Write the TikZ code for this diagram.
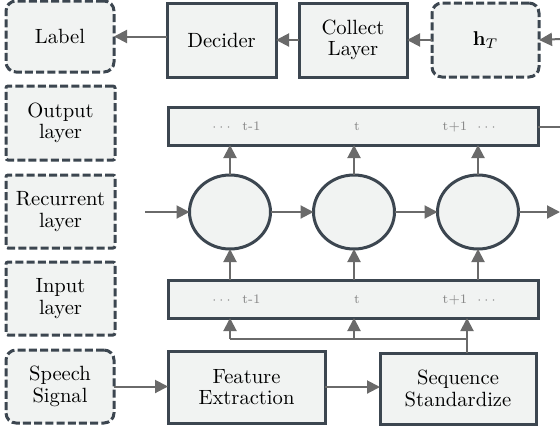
\documentclass[tikz,border=0pt]{standalone}
\usetikzlibrary{arrows.meta,shapes.geometric}
\definecolor{boxfill}{HTML}{F1F3F2}
\definecolor{boxline}{HTML}{3C4650}
\definecolor{arrowc}{HTML}{6A6A6A}
\definecolor{smalltxt}{HTML}{858585}
\newcommand{\mydots}{$\cdots$}
\begin{document}
\begin{tikzpicture}[x=0.5pt,y=-0.5pt,
  every node/.style={font=\fontsize{10.3}{10.8}\selectfont, align=center, inner sep=0pt, outer sep=0pt},
  solidbox/.style={draw=boxline, fill=boxfill, line width=1.5pt},
  dashbox/.style={draw=boxline, fill=boxfill, line width=1.5pt, dash pattern=on 4pt off 1.6pt, rounded corners=1pt},
  rdashbox/.style={dashbox, rounded corners=5pt},
  cellnode/.style={draw=boxline, fill=boxfill, line width=1.5pt, shape=ellipse, minimum width=40.5pt, minimum height=37pt},
  barbox/.style={solidbox, minimum width=185pt, minimum height=19pt},
  smallt/.style={font=\fontsize{6.5}{7}\selectfont, text=smalltxt, anchor=base},
  arr/.style={draw=arrowc, line width=1pt, -{Triangle[length=6.5pt,width=6.5pt]}},
  plainline/.style={draw=arrowc, line width=1pt}]
\useasboundingbox (0,0) rectangle (560,428);
% top row
\node[rdashbox, minimum width=54pt, minimum height=35.5pt] (label) at (60,36.5) {Label};
\node[solidbox, minimum width=54.5pt, minimum height=37pt] (decider) at (221.5,40) {Decider};
\node[solidbox, minimum width=54pt, minimum height=37pt] (collect) at (353,40) {Collect\\Layer};
\node[rdashbox, minimum width=53.5pt, minimum height=37pt] (hT) at (485.5,40) {$\mathbf{h}_T$};
% left labels
\node[dashbox, minimum width=54.5pt, minimum height=37pt] (outlbl) at (60.5,123) {Output\\layer};
\node[dashbox, minimum width=54.5pt, minimum height=36.5pt] (reclbl) at (60.5,211.5) {Recurrent\\layer};
\node[dashbox, minimum width=54.5pt, minimum height=36.5pt] (inlbl) at (60.5,298.5) {Input\\layer};
\node[rdashbox, minimum width=54pt, minimum height=36.5pt] (speech) at (60,386.5) {Speech\\Signal};
% bars
\node[barbox] (outbar) at (353,126) {};
\node[barbox] (inbar) at (353,299) {};
\node[smallt] (o1d) at (221.5,130) {\mydots};
\node[smallt] (o1) at (251.5,130) {t-1};
\node[smallt] (o2) at (357,130) {t};
\node[smallt] (o3) at (455,130) {t+1};
\node[smallt] (o3d) at (486.5,130) {\mydots};
\node[smallt] (i1d) at (221.5,303) {\mydots};
\node[smallt] (i1) at (251.5,303) {t-1};
\node[smallt] (i2) at (357,303) {t};
\node[smallt] (i3) at (455,303) {t+1};
\node[smallt] (i3d) at (486.5,303) {\mydots};
% cells
\node[cellnode] (c1) at (230,212) {};
\node[cellnode] (c2) at (354,212) {};
\node[cellnode] (c3) at (478,212) {};
% bottom boxes
\node[solidbox, minimum width=78.5pt, minimum height=36pt] (feat) at (246.5,387) {Feature\\Extraction};
\node[solidbox, minimum width=78pt, minimum height=35.5pt] (seq) at (458,388.5) {Sequence\\Standardize};
% free ends
\coordinate (inL) at (145,212);
\coordinate (outR) at (560,212);
\coordinate (hTin) at (560,39);
\coordinate (outbarR) at (560,127);
\coordinate (j) at (467,339);
% connectors top
\draw[arr] (decider.west |- label.east) -- (label.east);
\draw[arr] (collect.west) -- (decider.east);
\draw[arr] (hT.west) -- (collect.east);
\draw[arr] (hTin) -- (hT.east);
\draw[plainline] (outbar.east |- outbarR) -- (outbarR);
% recurrent chain
\draw[arr] (inL) -- (c1.west);
\draw[arr] (c1.east) -- (c2.west);
\draw[arr] (c2.east) -- (c3.west);
\draw[arr] (c3.east) -- (outR);
% cells to output bar
\draw[arr] (c1.north) -- (c1.north |- outbar.south);
\draw[arr] (c2.north) -- (c2.north |- outbar.south);
\draw[arr] (c3.north) -- (c3.north |- outbar.south);
% input bar to cells
\draw[arr] (c1.south |- inbar.north) -- (c1.south);
\draw[arr] (c2.south |- inbar.north) -- (c2.south);
\draw[arr] (c3.south |- inbar.north) -- (c3.south);
% sequence to input bar
\draw[plainline] (seq.north -| j) -- (j) -- (c1 |- j);
\draw[arr] (c1 |- j) -- (c1 |- inbar.south);
\draw[arr] (c2 |- j) -- (c2 |- inbar.south);
\draw[arr] (j) -- (j |- inbar.south);
% bottom chain
\draw[arr] (speech.east) -- (feat.west |- speech.east);
\draw[arr] (feat.east) -- (seq.west |- feat.east);
\end{tikzpicture}
\end{document}
